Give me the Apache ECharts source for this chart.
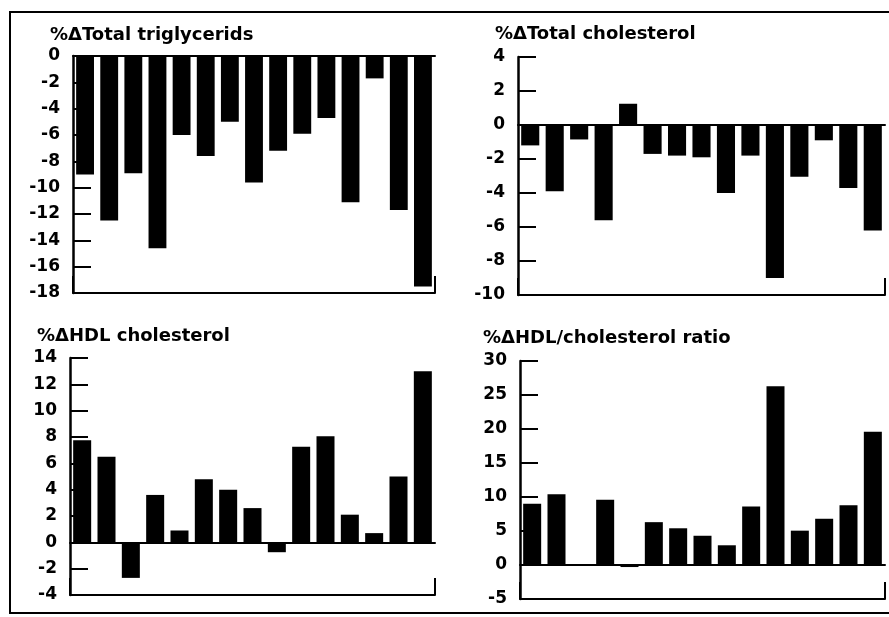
<!DOCTYPE html>
<html>
<head>
<meta charset="utf-8">
<script src="https://cdn.jsdelivr.net/npm/echarts@6/dist/echarts.min.js"></script>
<style>
  html, body { margin: 0; padding: 0; background: #fff; }
  #main { width: 889px; height: 617px; }
</style>
</head>
<body>
<div id="main"></div>
<script>
// subjects 1..15 (no labels drawn on the x axis)
const subjects = ["1", "2", "3", "4", "5", "6", "7", "8", "9", "10", "11", "12", "13", "14", "15"];

// % change per subject
const totalTriglycerides = [-9.0, -12.5, -8.9, -14.6, -6.0, -7.6, -5.0, -9.6, -7.2, -5.9, -4.7, -11.1, -1.7, -11.7, -17.5];
const totalCholesterol = [-1.2, -3.9, -0.85, -5.6, 1.25, -1.7, -1.8, -1.9, -4.0, -1.8, -9.0, -3.05, -0.9, -3.7, -6.2];
const hdlCholesterol = [7.75, 6.5, -2.7, 3.6, 0.9, 4.8, 4.0, 2.6, -0.75, 7.25, 8.05, 2.1, 0.7, 5.0, 13.0];
const hdlCholRatio = [9.0, 10.4, 0, 9.6, -0.3, 6.3, 5.4, 4.3, 2.9, 8.6, 26.3, 5.05, 6.8, 8.8, 19.6];

// panel titles and y ranges [min, max, step]
const titles = ["%\u0394Total triglycerids", "%\u0394Total cholesterol", "%\u0394HDL cholesterol", "%\u0394HDL/cholesterol ratio"];
const yRanges = [[-18, 0, 2], [-10, 4, 2], [-4, 14, 2], [-5, 30, 5]];
const panelData = [totalTriglycerides, totalCholesterol, hdlCholesterol, hdlCholRatio];

// layout of each panel
const grids = [
  { left: 73, top: 56, width: 362, height: 237 },
  { left: 518, top: 57, width: 367, height: 238 },
  { left: 70, top: 358, width: 365, height: 237 },
  { left: 520, top: 361, width: 365, height: 238 }
];
const titlePos = [
  { left: 50, top: 26 },
  { left: 495, top: 25 },
  { left: 37, top: 327 },
  { left: 483, top: 329 }
];

const font = "DejaVu Sans";
const ink = "#000";

const option = {
  backgroundColor: "#fff",
  animation: false,
  title: [],
  grid: [],
  xAxis: [],
  yAxis: [],
  series: [],
  graphic: [
    {
      // outer frame of the figure
      type: "rect",
      shape: { x: 10, y: 12, width: 900, height: 601 },
      style: { fill: "none", stroke: ink, lineWidth: 2 }
    }
  ]
};

grids.forEach((g, i) => {
  option.grid.push(Object.assign({ containLabel: false }, g));
  option.title.push({
    text: titles[i],
    left: titlePos[i].left,
    top: titlePos[i].top,
    padding: 0,
    textStyle: { fontFamily: font, fontWeight: "bold", fontSize: 18, color: ink }
  });
  // zero line (category axis)
  option.xAxis.push({
    type: "category",
    gridIndex: i,
    position: "bottom",
    data: subjects,
    axisLine: { onZero: true, lineStyle: { color: ink, width: 2 } },
    axisTick: { show: false },
    axisLabel: { show: false }
  });
  // bottom frame line with the short tick at its right end
  option.xAxis.push({
    type: "value",
    gridIndex: i,
    position: "bottom",
    min: 0,
    max: 1,
    interval: 1,
    axisLine: { show: true, onZero: false, lineStyle: { color: ink, width: 2 } },
    axisTick: { show: true, inside: true, length: 17, lineStyle: { color: ink, width: 2 } },
    axisLabel: { show: false },
    splitLine: { show: false }
  });
  option.yAxis.push({
    type: "value",
    gridIndex: i,
    min: yRanges[i][0],
    max: yRanges[i][1],
    interval: yRanges[i][2],
    axisLine: { show: true, onZero: false, lineStyle: { color: ink, width: 2.5 } },
    axisTick: { show: true, inside: true, length: 18, lineStyle: { color: ink, width: 2 } },
    axisLabel: {
      margin: 13,
      fontFamily: font,
      fontWeight: "bold",
      fontSize: 17,
      color: ink
    },
    splitLine: { show: false }
  });
  option.series.push({
    type: "bar",
    xAxisIndex: i * 2,
    yAxisIndex: i,
    data: panelData[i],
    barCategoryGap: "26%",
    itemStyle: { color: ink },
    z: 3
  });
});

const myChart = echarts.init(document.getElementById("main"));
myChart.setOption(option);
</script>
</body>
</html>
